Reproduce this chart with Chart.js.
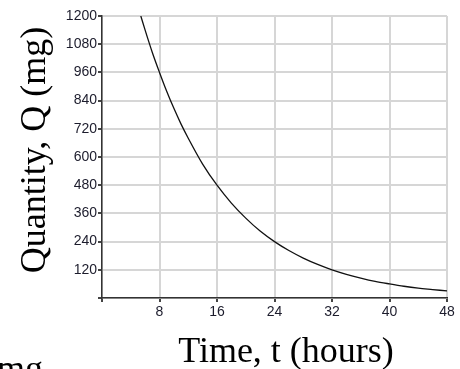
<!DOCTYPE html>
<html>
<head>
<meta charset="utf-8">
<script src="https://cdn.jsdelivr.net/npm/chart.js@4"></script>
<style>
  html, body { margin: 0; padding: 0; background: #fff; }
  #wrap { width: 460px; height: 369px; }
</style>
</head>
<body>
<div id="wrap"><canvas id="myChart" width="460" height="369"></canvas></div>
<script>
// values
const hours = [5.4, 6, 7, 8, 9, 10, 11, 12, 14, 16, 18, 20, 22, 24, 26, 28, 30, 32, 34, 36, 38, 40, 42, 44, 46, 48];
const quantity = [1200, 1140, 1045, 960, 880, 807, 740, 680, 570, 480, 404, 340, 285, 240, 202, 170, 143, 120, 101, 85, 71, 60, 50, 42, 36, 30];
const xTicks = [8, 16, 24, 32, 40, 48];
const yTicks = [120, 240, 360, 480, 600, 720, 840, 960, 1080, 1200];

const ctx = document.getElementById("myChart").getContext("2d");

const axisTitles = {
  id: "axisTitles",
  afterDraw: (chart) => {
    const c = chart.ctx;
    c.save();
    c.fillStyle = "#000";
    c.font = "36px 'Liberation Serif'";
    c.textAlign = "center";
    c.textBaseline = "alphabetic";
    c.fillText("Time, t (hours)", 286, 362);
    c.textAlign = "left";
    c.fillText("mg", -3, 380);
    c.translate(45, 150);
    c.rotate(-Math.PI / 2);
    c.textAlign = "center";
    c.fillText("Quantity, Q (mg)", 0, 0);
    c.restore();
  },
};

const tickFont = { family: "'Liberation Sans'", size: 14 };

const myChart = new Chart(ctx, {
  type: "line",
  data: {
    datasets: [
      {
        data: hours.map((t, i) => ({ x: t, y: quantity[i] })),
        borderColor: "#111",
        borderWidth: 1.3,
        pointRadius: 0,
        cubicInterpolationMode: "monotone",
        fill: false,
      },
    ],
  },
  options: {
    responsive: false,
    animation: false,
    layout: { padding: { top: 16, right: 13, left: 0, bottom: 0 } },
    plugins: { legend: { display: false }, tooltip: { enabled: false } },
    scales: {
      x: {
        type: "linear",
        min: 0,
        max: 48,
        afterFit: (scale) => { scale.height = 71; },
        afterBuildTicks: (scale) => { scale.ticks = [0, ...xTicks].map((v) => ({ value: v })); },
        ticks: {
          font: tickFont,
          color: "#1c1c2c",
          padding: 2,
          maxRotation: 0,
          callback: (v) => (v === 0 ? "" : v),
        },
        grid: { color: "#d6d6d6", lineWidth: 2, tickLength: 4, tickColor: "#444" },
        border: { color: "#333", width: 1.5 },
      },
      y: {
        min: 0,
        max: 1200,
        afterFit: (scale) => { scale.width = 102; },
        afterBuildTicks: (scale) => { scale.ticks = [0, ...yTicks].map((v) => ({ value: v })); },
        ticks: {
          font: tickFont,
          color: "#1c1c2c",
          padding: 1,
          callback: (v) => (v === 0 ? "" : v),
        },
        grid: { color: "#d6d6d6", lineWidth: 2, tickLength: 4, tickColor: "#444" },
        border: { color: "#333", width: 1.5 },
      },
    },
  },
  plugins: [axisTitles],
});
</script>
</body>
</html>
